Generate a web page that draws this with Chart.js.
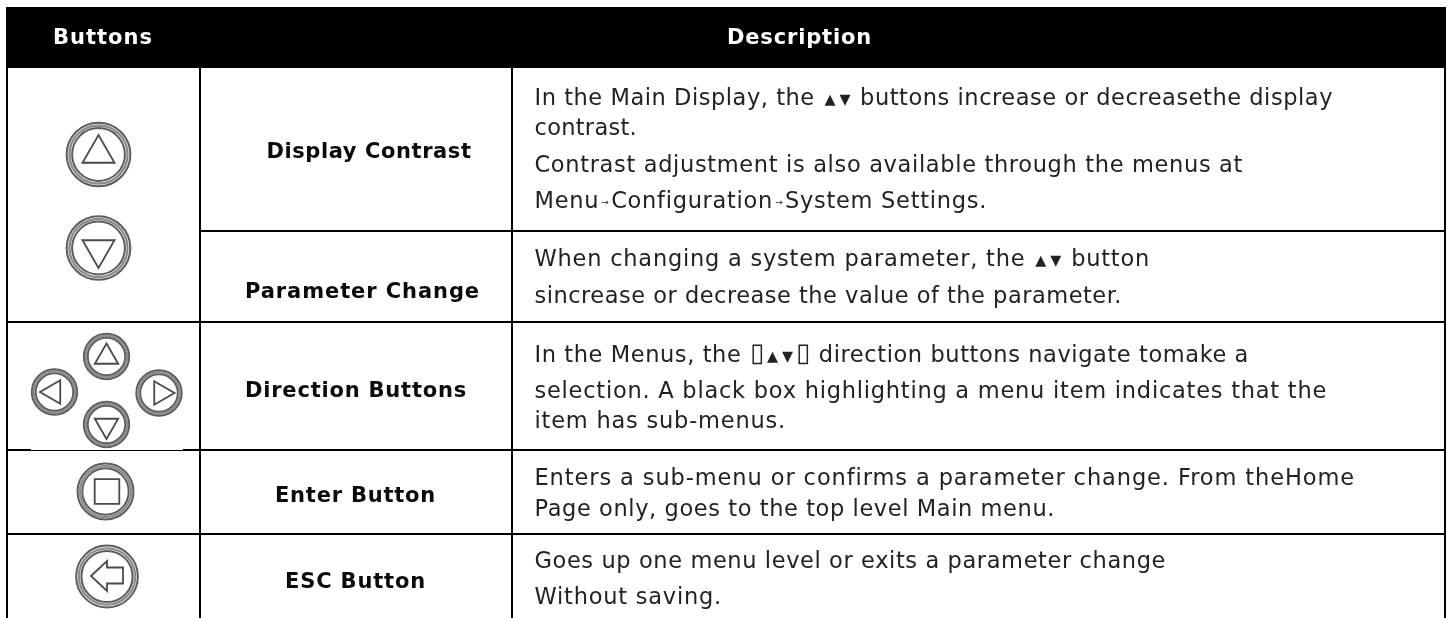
<!DOCTYPE html>
<html>
<head>
<meta charset="utf-8">
<style>
html,body{margin:0;padding:0;background:#fff;overflow:hidden}
canvas{display:block;filter:blur(0.3px)}
</style>
<script src="https://cdn.jsdelivr.net/npm/chart.js@4"></script>
</head>
<body>
<canvas id="c" width="1447" height="618"></canvas>
<script>
// ---- Table content ----
const columnHeaders = ["Buttons", "Description"];
const rowNames = ["Display Contrast", "Parameter Change", "Direction Buttons", "Enter Button", "ESC Button"];
const descriptionLines = [
  "In the Main Display, the ▴▾ buttons increase or decreasethe display",
  "contrast.",
  "Contrast adjustment is also available through the menus at",
  "Menu→Configuration→System Settings.",
  "When changing a system parameter, the ▴▾ button",
  "sincrease or decrease the value of the parameter.",
  "In the Menus, the ▯▴▾▯ direction buttons navigate tomake a",
  "selection. A black box highlighting a menu item indicates that the",
  "item has sub-menus.",
  "Enters a sub-menu or confirms a parameter change. From theHome",
  "Page only, goes to the top level Main menu.",
  "Goes up one menu level or exits a parameter change",
  "Without saving."
];
const buttonGlyphs = ["up", "down", "up", "left", "right", "down", "enter", "esc"];

// ---- Layout, in the page-sized units of the two hidden linear scales ----
const scaleWidth = 1447, scaleHeight = 618;
const tableLeft = 7, tableRight = 1445, tableBottom = 618;
const headerTop = 7, headerBottom = 68;
const col1 = 200, col2 = 512;
const fullRowRules = [322, 450, 534];
const contrastRule = 231;
const buttonX = [98.5, 98.5, 106.5, 54.5, 159, 106.5, 105.5, 107];
const buttonY = [154.5, 248, 356.5, 392, 393, 424.5, 491.5, 576.5];
const buttonR = [33, 33, 23.5, 23.5, 23.5, 23.5, 29, 32];
const glyphX = [98.5, 98.5, 106.5, 53.5, 161, 106.5, 107, 106];
const glyphY = [153.5, 249.5, 357, 392, 393, 425.5, 491.5, 576];
const glyphR = [18.5, 18.5, 13.5, 13.5, 13.5, 13.5, 17.4, 20];
const headerLeft = [53, 727], headerWidth = [100, 145], headerBase = 44;
const nameX = [369, 362.5, 356, 355.5, 355.5];
const nameEnd = [205, 235, 222, 161, 141];
const nameBase = [158, 298, 396.7, 502, 588];
const descX = 534.5;
const descEnd = [1333, 637, 1243, 987, 1150, 1122, 1249, 1327, 786, 1355, 1055, 1166, 722];
const descBase = [105, 135, 171.7, 208, 266, 303, 361.7, 398, 428, 485, 516, 567.7, 604];

const regularFont = '400 22.5px "DejaVu Sans", sans-serif';
const boldFont = '700 21px "DejaVu Sans", sans-serif';
const textColor = "#222222";

// Custom mark for the ESC button arrow
function arrowMark() {
  const s = 44, c = document.createElement("canvas");
  c.width = s; c.height = s;
  const g = c.getContext("2d");
  const pts = [[1,6.5],[17,-8.5],[17,-2],[33,-2],[33,14],[17,14],[17,21.5]];
  g.translate(6, s / 2 - 6.5);
  g.beginPath();
  pts.forEach((p, i) => i ? g.lineTo(p[0], p[1]) : g.moveTo(p[0], p[1]));
  g.closePath();
  g.strokeStyle = "#4a4a4a"; g.lineWidth = 1.8; g.lineJoin = "miter"; g.stroke();
  return c;
}
const styleOf = {up:"triangle", down:"triangle", left:"triangle", right:"triangle", enter:"rect", esc:arrowMark()};
const rotOf = {up:0, down:180, left:270, right:90, enter:0, esc:0};

// Rule datasets
function rule(x0, y0, x1, y1, color, width, order) {
  return {type:"scatter", showLine:true, pointRadius:0, pointHoverRadius:0, borderColor:color,
          borderWidth:width, borderCapStyle:"butt", order:order,
          data:[{x:x0, y:y0}, {x:x1, y:y1}]};
}
function ring(factor, width, color, order) {
  return {type:"scatter", showLine:false, order:order, pointStyle:"circle",
          pointBackgroundColor:"rgba(0,0,0,0)", pointBorderColor:color, pointBorderWidth:width,
          pointRadius:buttonR.map(r => r * factor),
          data:buttonX.map((x, i) => ({x, y:buttonY[i]}))};
}
const datasets = [
  rule(tableLeft - 1, (headerTop + headerBottom) / 2, tableRight + 1, (headerTop + headerBottom) / 2, "#000", headerBottom - headerTop, 6),
  rule(tableLeft, headerBottom, tableLeft, tableBottom, "#000", 2, 5),
  rule(col1, headerBottom, col1, tableBottom, "#000", 2, 5),
  rule(col2, headerBottom, col2, tableBottom, "#000", 2, 5),
  rule(tableRight, headerBottom, tableRight, tableBottom, "#000", 2, 5),
  rule(col1, contrastRule, tableRight, contrastRule, "#000", 2, 5),
  ...fullRowRules.map(y => rule(tableLeft, y, tableRight, y, "#000", 2, 5)),
  rule(31, 449.5, 183, 449.5, "#fff", 1, 4),
  ring(0.965, 2, "#5c5c5c", 3),
  ring(0.88, 2.4, "#8c8c8c", 2),
  ring(0.80, 2, "#5c5c5c", 3),
  {type:"scatter", showLine:false, order:1,
   pointStyle:buttonGlyphs.map(g => styleOf[g]),
   pointRotation:buttonGlyphs.map(g => rotOf[g]),
   pointRadius:glyphR,
   pointBackgroundColor:"rgba(0,0,0,0)", pointBorderColor:"#4a4a4a", pointBorderWidth:1.8,
   data:glyphX.map((x, i) => ({x, y:glyphY[i]}))}
];

// Text drawn through the scales
const specialFonts = {"▴":'22px "DejaVu Sans"', "▾":'22px "DejaVu Sans"', "▯":'26px "DejaVu Sans"', "→":'9px "DejaVu Sans"'};
const specialAdvance = {"▴":15, "▾":15, "▯":16, "→":12};
const specialRaise = {"▴":-1, "▾":-1, "▯":1, "→":3};
function runsOf(line) {
  return line.split(/([▴▾▯→])/).filter(s => s.length);
}
function drawFitted(ctx, line, x, endX, y, font) {
  const runs = runsOf(line);
  ctx.letterSpacing = "0px";
  let natural = 0, chars = 0;
  runs.forEach(r => {
    ctx.font = font;
    if (specialFonts[r]) { natural += specialAdvance[r]; }
    else { natural += ctx.measureText(r).width; chars += r.length; }
  });
  const spacing = chars ? (endX - x - natural) / chars : 0;
  let cx = x;
  runs.forEach(r => {
    const sp = specialFonts[r];
    if (sp) {
      ctx.font = sp;
      ctx.letterSpacing = "0px";
      ctx.fillText(r, cx + (specialAdvance[r] - ctx.measureText(r).width) / 2, y - specialRaise[r]);
      cx += specialAdvance[r];
    } else {
      ctx.font = font;
      ctx.letterSpacing = spacing + "px";
      ctx.fillText(r, cx, y);
      cx += ctx.measureText(r).width;
    }
  });
  ctx.letterSpacing = "0px";
}
const tableText = {
  id:"tableText",
  afterDraw(chart) {
    const {ctx, scales:{x, y}} = chart;
    ctx.save();
    ctx.textAlign = "left";
    ctx.textBaseline = "alphabetic";
    ctx.fillStyle = "#fff";
    columnHeaders.forEach((t, i) => {
      const left = x.getPixelForValue(headerLeft[i]);
      drawFitted(ctx, t, left, left + headerWidth[i], y.getPixelForValue(headerBase), boldFont);
    });
    ctx.fillStyle = "#0b0b0b";
    rowNames.forEach((t, i) => {
      const left = x.getPixelForValue(nameX[i] - nameEnd[i] / 2);
      drawFitted(ctx, t, left, left + nameEnd[i], y.getPixelForValue(nameBase[i]), boldFont);
    });
    ctx.fillStyle = textColor;
    descriptionLines.forEach((t, i) => {
      drawFitted(ctx, t, x.getPixelForValue(descX), x.getPixelForValue(descEnd[i]), y.getPixelForValue(descBase[i]), regularFont);
    });
    ctx.restore();
  }
};

new Chart(document.getElementById("c"), {
  type:"scatter",
  data:{datasets},
  plugins:[tableText],
  options:{
    responsive:false,
    animation:false,
    events:[],
    layout:{padding:0, autoPadding:false},
    plugins:{legend:{display:false}, tooltip:{enabled:false}},
    scales:{
      x:{type:"linear", min:0, max:scaleWidth, display:false},
      y:{type:"linear", min:0, max:scaleHeight, reverse:true, display:false}
    }
  }
});
</script>
</body>
</html>
